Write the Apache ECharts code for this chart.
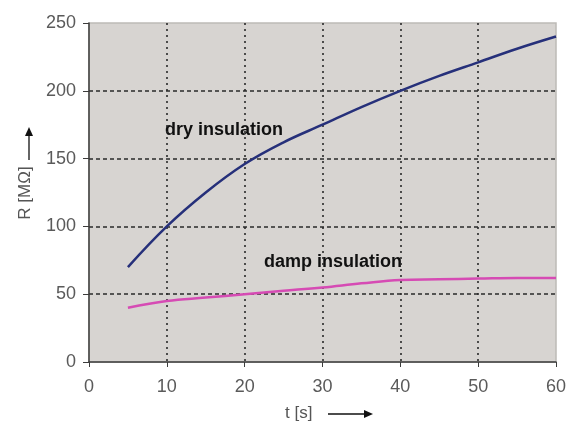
<!DOCTYPE html>
<html><head><meta charset="utf-8">
<script src="https://cdn.jsdelivr.net/npm/echarts@6/dist/echarts.min.js"></script>
<style>html,body{margin:0;padding:0;background:#fff}#c{width:570px;height:422px}</style>
</head><body><div id="c"></div>
<script>
const xTicks = [0, 10, 20, 30, 40, 50, 60];
const yTicks = [0, 50, 100, 150, 200, 250];
const dryT = [5, 10, 15, 20, 25, 30, 35, 40, 45, 50, 55, 60];
const dryR = [70, 100, 125, 146, 162, 175, 188, 200, 211, 221, 231, 240];
const dampT = [5, 10, 15, 20, 25, 30, 35, 40, 45, 50, 55, 60];
const dampR = [40, 45, 47.5, 50, 52.5, 55, 58, 60.5, 61, 61.5, 62, 62];
const labels = { dry: 'dry insulation', damp: 'damp insulation', x: 't [s]', y: 'R [MΩ]' };

const chart = echarts.init(document.getElementById('c'), null, { renderer: 'canvas' });
const font = '"Liberation Sans", Arial, sans-serif';
chart.setOption({
  animation: false,
  grid: { left: 89, right: 14, top: 23, bottom: 60, show: true, backgroundColor: '#d7d4d1', borderColor: '#bdbab6', borderWidth: 1.5 },
  xAxis: {
    type: 'value', min: 0, max: 60, interval: 10,
    axisLine: { lineStyle: { color: '#3c3c3c', width: 1.5 } },
    axisTick: { show: true, length: 5, lineStyle: { color: '#3c3c3c' } },
    axisLabel: { color: '#5a5a5a', fontSize: 18, fontFamily: font, margin: 16 },
    splitLine: { show: true, showMinLine: false, showMaxLine: false, lineStyle: { color: '#2a2a2a', type: [2, 4], width: 1.6 } }
  },
  yAxis: {
    type: 'value', min: 0, max: 250, interval: 50,
    axisLine: { show: true, lineStyle: { color: '#3c3c3c', width: 1.5 } },
    axisTick: { show: true, length: 6, lineStyle: { color: '#3c3c3c' } },
    axisLabel: { color: '#5a5a5a', fontSize: 18, fontFamily: font, margin: 13 },
    splitLine: { show: true, showMinLine: false, showMaxLine: false, lineStyle: { color: '#2a2a2a', type: [4, 3], width: 1.6 } }
  },
  series: [
    { type: 'line', smooth: 0.4, symbol: 'none', data: dryT.map((t, i) => [t, dryR[i]]),
      lineStyle: { color: '#26307a', width: 2.5 }, z: 3 },
    { type: 'line', smooth: 0.4, symbol: 'none', data: dampT.map((t, i) => [t, dampR[i]]),
      lineStyle: { color: '#d64bb4', width: 2.5 }, z: 3 }
  ],
  graphic: [
    { type: 'text', x: 165, y: 130, style: { text: labels.dry, font: 'bold 18px ' + font, fill: '#111', verticalAlign: 'middle' } },
    { type: 'text', x: 264, y: 262, style: { text: labels.damp, font: 'bold 18px ' + font, fill: '#111', verticalAlign: 'middle' } },
    { type: 'text', x: 285, y: 413, style: { text: labels.x, font: '17px ' + font, fill: '#555', verticalAlign: 'middle' } },
    { type: 'line', shape: { x1: 328, y1: 414, x2: 364, y2: 414 }, style: { stroke: '#111', lineWidth: 1.3 } },
    { type: 'polygon', shape: { points: [[364, 410], [373, 414], [364, 418]] }, style: { fill: '#111' } },
    { type: 'text', x: 25, y: 193, rotation: Math.PI / 2, style: { text: labels.y, font: '17px ' + font, fill: '#555', align: 'center', verticalAlign: 'middle' } },
    { type: 'line', shape: { x1: 29, y1: 160, x2: 29, y2: 136 }, style: { stroke: '#111', lineWidth: 1.3 } },
    { type: 'polygon', shape: { points: [[25, 136], [29, 127], [33, 136]] }, style: { fill: '#111' } }
  ]
});
</script></body></html>
